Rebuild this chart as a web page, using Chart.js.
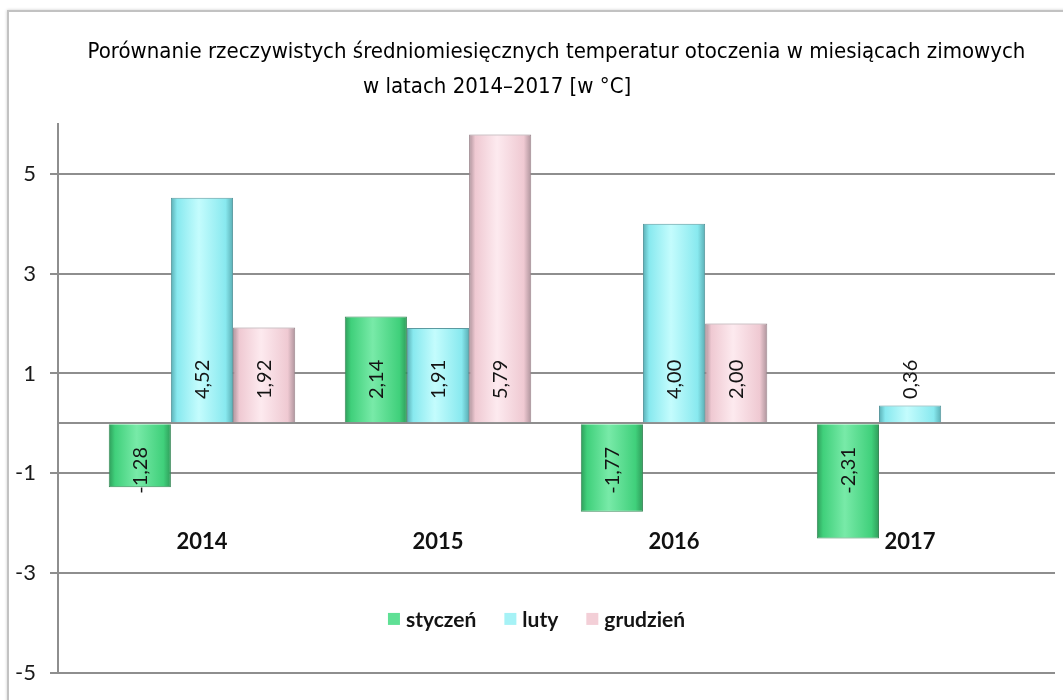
<!DOCTYPE html>
<html>
<head>
<meta charset="utf-8">
<script src="https://cdn.jsdelivr.net/npm/chart.js@4/dist/chart.umd.min.js"></script>
<style>
  html, body { margin: 0; padding: 0; background: #fff; }
  #frame { position: absolute; left: 7px; top: 10px; width: 1100px; height: 720px;
           border: 2px solid #c2c2c2; box-shadow: 0 0 3px rgba(0,0,0,0.2); }
  #wrap { position: absolute; left: 0; top: 0; width: 1063px; height: 700px; }
</style>
</head>
<body>
<div id="frame"></div>
<div id="wrap"><canvas id="tempChart"></canvas></div>
<script>
// values
const years = ['2014', '2015', '2016', '2017'];
const styczen = [-1.28, 2.14, -1.77, -2.31];
const luty = [4.52, 1.91, 4.00, 0.36];
const grudzien = [1.92, 5.79, 2.00, null];
const yTicks = [-5, -3, -1, 0, 1, 3, 5];

const catPct = 0.79;
const legendLevel = -3.92;
const gridGray = '#8e8e8e';

// horizontal shading across each bar, like the excel 3d look
function barFill(stops) {
    return function (ctx) {
        const xs = ctx.chart.scales.x;
        if (!xs || ctx.type !== 'data') return stops[1];
        const step = xs.getPixelForValue(1) - xs.getPixelForValue(0);
        const w = step * catPct / 3;
        const centre = xs.getPixelForValue(ctx.dataIndex) + (ctx.datasetIndex - 1) * w;
        if (!Number.isFinite(centre) || !Number.isFinite(w) || w <= 0) return stops[1];
        const g = ctx.chart.ctx.createLinearGradient(centre - w / 2, 0, centre + w / 2, 0);
        g.addColorStop(0, stops[0]);
        g.addColorStop(0.1, stops[1]);
        g.addColorStop(0.45, stops[2]);
        g.addColorStop(0.88, stops[1]);
        g.addColorStop(1, stops[0]);
        return g;
    };
}

function toPoints(arr) {
    return arr.map((v, i) => ({ x: i, y: v }));
}

// rotated value labels near the base of every bar
const valueLabels = {
    id: 'valueLabels',
    afterDatasetsDraw(chart) {
        const c = chart.ctx;
        const zero = chart.scales.y.getPixelForValue(0);
        c.save();
        c.font = '20px Lato';
        c.fillStyle = '#141414';
        c.textAlign = 'center';
        c.textBaseline = 'alphabetic';
        chart.data.datasets.forEach((ds, di) => {
            chart.getDatasetMeta(di).data.forEach((bar, i) => {
                const v = ds.data[i].y;
                if (v === null || v === undefined) return;
                const cy = v >= 0 ? zero - 44 : zero + 47;
                c.save();
                c.translate(bar.x, cy);
                c.rotate(-Math.PI / 2);
                c.fillText(v.toFixed(2).replace('.', ','), 0, 7);
                c.restore();
            });
        });
        c.restore();
    }
};

// legend sits inside the plot, between -3 and -5
const innerLegend = {
    id: 'innerLegend',
    afterDraw(chart) {
        const c = chart.ctx;
        const area = chart.chartArea;
        const y = chart.scales.y.getPixelForValue(legendLevel);
        c.save();
        c.font = 'bold 21px Lato';
        c.textBaseline = 'middle';
        c.textAlign = 'left';
        const box = 12, gap = 6, between = 28;
        const items = chart.data.datasets.map(ds => ({
            text: ds.label, color: ds.legendColor, w: c.measureText(ds.label).width
        }));
        const total = items.reduce((s, it) => s + box + gap + it.w, 0) + between * (items.length - 1);
        let x = (area.left + area.right) / 2 - 20 - total / 2;
        items.forEach(it => {
            c.fillStyle = it.color;
            c.fillRect(x, y - box / 2, box, box);
            x += box + gap;
            c.fillStyle = '#141414';
            c.fillText(it.text, x, y + 1);
            x += it.w + between;
        });
        c.restore();
    }
};

const ctx = document.getElementById('tempChart');
const tempChart = new Chart(ctx, {
    type: 'bar',
    data: {
        datasets: [
            {
                label: 'styczeń',
                data: toPoints(styczen),
                backgroundColor: barFill(['#2f9c5a', '#40d07b', '#78eaa8']),
                borderColor: '#3a8a5a',
                borderWidth: 1,
                legendColor: '#5fe095'
            },
            {
                label: 'luty',
                data: toPoints(luty),
                backgroundColor: barFill(['#5aaeb4', '#88e9ef', '#c4fcfd']),
                borderColor: '#5b9aa0',
                borderWidth: 1,
                legendColor: '#a6f2f6'
            },
            {
                label: 'grudzień',
                data: toPoints(grudzien),
                backgroundColor: barFill(['#ad939b', '#efc9d2', '#fdeaef']),
                borderColor: '#9c878e',
                borderWidth: 1,
                legendColor: '#f3cfd7'
            }
        ]
    },
    options: {
        responsive: true,
        maintainAspectRatio: false,
        animation: false,
        categoryPercentage: catPct,
        barPercentage: 1.0,
        layout: { padding: { top: 0, left: 0, right: 8, bottom: 27 } },
        plugins: {
            legend: { display: false },
            tooltip: { enabled: false },
            title: {
                display: true,
                fullSize: false,
                text: [
                    'Porównanie rzeczywistych średniomiesięcznych temperatur otoczenia w miesiącach zimowych',
                    'w latach 2014–2017 [w °C]' + '\u2003'.repeat(6)
                ],
                color: '#000',
                font: {
                    family: "'Liberation Sans Narrow', 'DejaVu Sans Condensed', sans-serif",
                    size: 22,
                    weight: 'normal',
                    lineHeight: 35 / 22
                },
                padding: { top: 34.5, bottom: 19.5 }
            }
        },
        scales: {
            x: {
                type: 'linear',
                min: -0.61,
                max: 3.614,
                offset: false,
                position: { y: -1.83 },
                afterFit: s => { s.height = 0; },
                afterBuildTicks: s => { s.ticks = years.map((y, i) => ({ value: i })); },
                grid: { display: false },
                border: { display: false },
                ticks: {
                    callback: v => years[v] ?? '',
                    font: { family: 'Lato', size: 22, weight: 'bold' },
                    color: '#111',
                    padding: 6,
                    autoSkip: false,
                    maxRotation: 0
                }
            },
            y: {
                min: -5,
                max: 6,
                afterFit: s => { s.width = 58; },
                afterBuildTicks: s => { s.ticks = yTicks.map(v => ({ value: v })); },
                grid: {
                    color: gridGray,
                    lineWidth: 2,
                    tickLength: 8,
                    tickColor: c => (c.tick && c.tick.value === 0) ? 'rgba(0,0,0,0)' : gridGray
                },
                border: { color: gridGray, width: 2 },
                ticks: {
                    callback: v => v === 0 ? '' : String(v),
                    font: { family: 'Lato', size: 22 },
                    color: '#1a1a1a',
                    padding: 14
                }
            }
        }
    },
    plugins: [valueLabels, innerLegend]
});
</script>
</body>
</html>
